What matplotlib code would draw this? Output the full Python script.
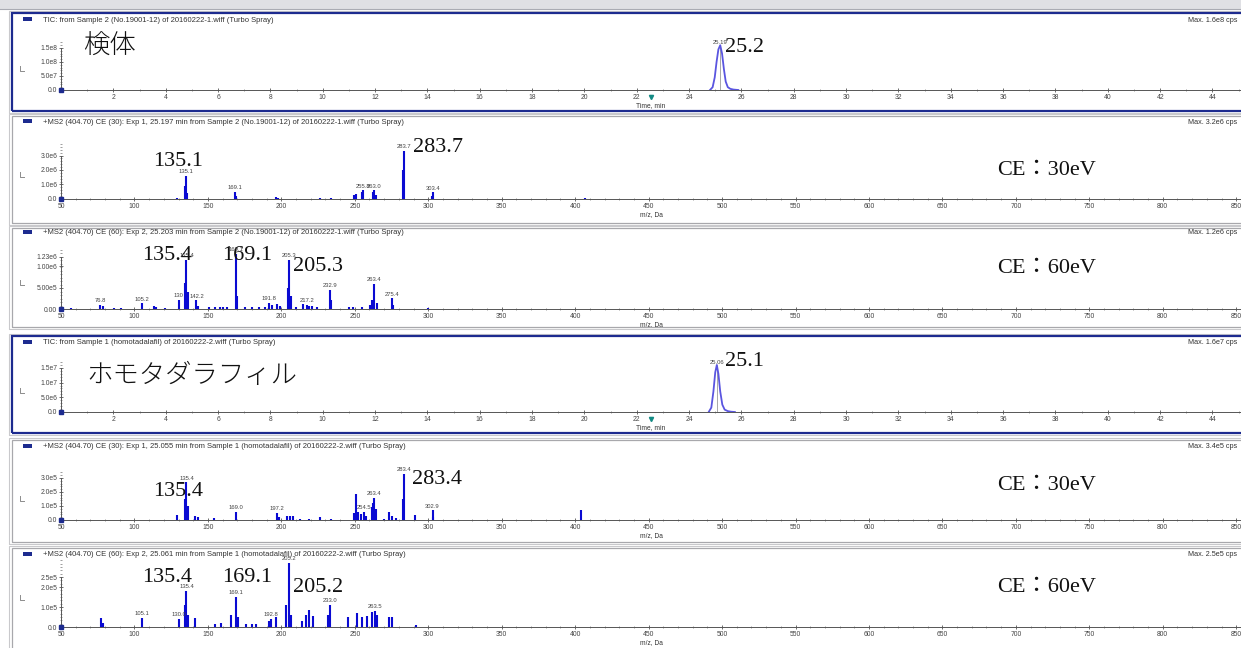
import matplotlib
matplotlib.use("Agg")
import matplotlib.pyplot as plt
from matplotlib.patches import Rectangle
from matplotlib.lines import Line2D
from matplotlib.ticker import MultipleLocator, FixedLocator

plt.rcParams['font.family'] = ['Liberation Sans', 'DejaVu Sans']

W, H = 1241, 648

# ---------------- data ----------------
# TIC, Sample 2 (No.19001-12)
tic1_time = [24.80, 24.90, 24.98, 25.05, 25.12, 25.19, 25.26, 25.33, 25.40, 25.48, 25.58, 25.70, 25.88]
tic1_int = [0, 0.1e8, 0.45e8, 1.0e8, 1.45e8, 1.6e8, 1.3e8, 0.75e8, 0.3e8, 0.1e8, 0.04e8, 0.015e8, 0]

# MS2 CE 30, sample
ms1_mz = [129.0, 134.6, 135.1, 136.0, 168.7, 169.3, 196.5, 198.0, 226.0, 234.0, 249.5, 250.5,
          255.0, 255.8, 262.5, 263.0, 264.5, 282.6, 283.7, 302.6, 303.4, 406.5]
ms1_int = [0.1e6, 0.9e6, 1.6e6, 0.4e6, 0.5e6, 0.2e6, 0.15e6, 0.08e6, 0.05e6, 0.08e6, 0.3e6, 0.35e6,
           0.45e6, 0.6e6, 0.45e6, 0.6e6, 0.3e6, 2.0e6, 3.3e6, 0.2e6, 0.45e6, 0.1e6]
ms1_labels = ['135.1', '169.1', '255.8', '263.0', '283.7', '303.4']

# MS2 CE 60, sample
ms2_mz = [57, 76.8, 78.5, 86, 91, 105.2, 113, 115, 121, 130, 134.5, 135.4, 136.5, 142.2, 143.5,
          151, 155, 158, 160, 163, 169.1, 170, 175, 180, 185, 189, 191.8, 193.5, 197, 199,
          204.5, 205.3, 206.5, 210, 215, 217.2, 219, 221, 224, 232.9, 234, 246, 249, 255,
          260.5, 262, 263.4, 265, 275.4, 276, 300]
ms2_int = [0.03e6, 0.1e6, 0.06e6, 0.03e6, 0.02e6, 0.13e6, 0.07e6, 0.05e6, 0.02e6, 0.22e6, 0.6e6,
           1.15e6, 0.4e6, 0.2e6, 0.07e6, 0.05e6, 0.05e6, 0.04e6, 0.05e6, 0.04e6, 1.3e6, 0.3e6,
           0.05e6, 0.04e6, 0.05e6, 0.05e6, 0.15e6, 0.1e6, 0.12e6, 0.08e6, 0.5e6, 1.15e6, 0.3e6,
           0.05e6, 0.12e6, 0.1e6, 0.08e6, 0.06e6, 0.04e6, 0.45e6, 0.2e6, 0.05e6, 0.05e6, 0.05e6,
           0.1e6, 0.2e6, 0.58e6, 0.15e6, 0.25e6, 0.1e6, 0.03e6]
ms2_labels = ['76.8', '105.2', '130', '135.4', '142.2', '169.1', '191.8', '205.3', '217.2',
              '232.9', '263.4', '275.4']

# TIC, Sample 1 (homotadalafil)
tic2_time = [24.75, 24.85, 24.93, 25.00, 25.06, 25.12, 25.19, 25.27, 25.36, 25.48, 25.60, 25.75]
tic2_int = [0, 0.15e7, 0.7e7, 1.35e7, 1.6e7, 1.3e7, 0.7e7, 0.25e7, 0.08e7, 0.03e7, 0.01e7, 0]

# MS2 CE 30, homotadalafil
ms3_mz = [129, 134.5, 135.4, 136.3, 141, 143, 154, 169.0, 197.2, 198.5, 204, 206, 208, 213,
          219, 226, 234, 249.5, 250.5, 252.5, 254.5, 256, 257.5, 261.5, 262.5, 263.4, 264.5,
          270, 273, 275, 278, 282.6, 283.4, 291, 302.9, 303.5, 404]
ms3_int = [0.35e5, 1.5e5, 2.7e5, 1.0e5, 0.3e5, 0.25e5, 0.15e5, 0.6e5, 0.5e5, 0.2e5, 0.3e5,
           0.3e5, 0.3e5, 0.1e5, 0.1e5, 0.25e5, 0.1e5, 0.5e5, 1.85e5, 0.6e5, 0.4e5, 0.6e5,
           0.3e5, 0.9e5, 1.2e5, 1.6e5, 0.8e5, 0.1e5, 0.6e5, 0.3e5, 0.15e5, 1.5e5, 3.3e5,
           0.35e5, 0.7e5, 0.25e5, 0.7e5]
ms3_labels = ['135.4', '169.0', '197.2', '254.5', '263.4', '283.4', '302.9']

# MS2 CE 60, homotadalafil
ms4_mz = [77.0, 78.5, 105.1, 130.0, 134.5, 135.4, 136.3, 141.5, 155, 159, 165.5, 169.1, 170.5,
          176, 180, 183, 191.5, 192.8, 196.5, 203.5, 205.2, 206.5, 214, 216.5, 219, 221.5,
          232, 233.0, 245.5, 251.5, 255, 258, 262, 263.5, 265, 273, 275, 292]
ms4_int = [0.45e5, 0.2e5, 0.45e5, 0.4e5, 1.1e5, 1.8e5, 0.6e5, 0.45e5, 0.15e5, 0.2e5, 0.6e5,
           1.5e5, 0.5e5, 0.15e5, 0.15e5, 0.15e5, 0.3e5, 0.4e5, 0.5e5, 1.1e5, 3.2e5, 0.6e5,
           0.3e5, 0.6e5, 0.85e5, 0.55e5, 0.6e5, 1.1e5, 0.5e5, 0.7e5, 0.5e5, 0.55e5, 0.75e5,
           0.8e5, 0.6e5, 0.5e5, 0.5e5, 0.1e5]
ms4_labels = ['105.1', '130.0', '135.4', '169.1', '192.8', '205.2', '233.0', '263.5']

titles = [
    'TIC: from Sample 2 (No.19001-12) of 20160222-1.wiff (Turbo Spray)',
    '+MS2 (404.70) CE (30): Exp 1, 25.197 min from Sample 2 (No.19001-12) of 20160222-1.wiff (Turbo Spray)',
    '+MS2 (404.70) CE (60): Exp 2, 25.203 min from Sample 2 (No.19001-12) of 20160222-1.wiff (Turbo Spray)',
    'TIC: from Sample 1 (homotadalafil) of 20160222-2.wiff (Turbo Spray)',
    '+MS2 (404.70) CE (30): Exp 1, 25.055 min from Sample 1 (homotadalafil) of 20160222-2.wiff (Turbo Spray)',
    '+MS2 (404.70) CE (60): Exp 2, 25.061 min from Sample 1 (homotadalafil) of 20160222-2.wiff (Turbo Spray)',
]
max_texts = ['Max. 1.6e8 cps', 'Max. 3.2e6 cps', 'Max. 1.2e6 cps',
             'Max. 1.6e7 cps', 'Max. 3.4e5 cps', 'Max. 2.5e5 cps']
ytick_vals = [[0, 5e7, 1e8, 1.5e8], [0, 1e6, 2e6, 3e6], [0, 5e5, 1e6, 1.23e6],
              [0, 5e6, 1e7, 1.5e7], [0, 1e5, 2e5, 3e5], [0, 1e5, 2e5, 2.5e5]]
ytick_text = [['0.0', '5.0e7', '1.0e8', '1.5e8'], ['0.0', '1.0e6', '2.0e6', '3.0e6'],
              ['0.00', '5.00e5', '1.00e6', '1.23e6'], ['0.0', '5.0e6', '1.0e7', '1.5e7'],
              ['0.0', '1.0e5', '2.0e5', '3.0e5'], ['0.0', '1.0e5', '2.0e5', '2.5e5']]

# ---------------- layout (pixels of the 1241x648 screenshot) ----------------
# frame top, frame bottom, baseline, px per y unit, axes top, is TIC
layout = [
    (13, 111, 90, 14 / 5e7, 40, True),
    (116, 223, 199, 14.5 / 1e6, 143, False),
    (228, 327, 309, 42.6 / 1e6, 248, False),
    (336, 433, 412, 14.7 / 5e6, 362, True),
    (440, 542, 520, 14 / 1e5, 470, False),
    (548, 650, 627, 20 / 1e5, 560, False),
]
title_rows = [20, 122, 233, 343, 447, 555]
X0 = 61
TIC_PX = 26.17      # px per minute
MZ_PX = 1.469       # px per m/z unit

fig = plt.figure(figsize=(W / 100, H / 100), dpi=100)
fig.patch.set_facecolor('white')


def fx(x):
    return x / W


def fy(y):
    return 1 - y / H


# window strip on top
fig.add_artist(Rectangle((0, fy(9)), 1, 9 / H, transform=fig.transFigure,
                         facecolor='#dfe0e4', edgecolor='none'))
fig.add_artist(Line2D([0, 1], [fy(9), fy(9)], transform=fig.transFigure, color='#a9abb3', lw=0.8))

NAVY = '#1d2b8f'
BLUE = '#0a0ad2'
big_num = dict(family=['Liberation Serif', 'Noto Sans CJK JP'], fontsize=16, color='#111111')
big_jp = dict(family=['Noto Sans CJK JP'], fontsize=19, fontweight='light', color='#111111')

axes = []
for i, (ytop_f, ybot_f, base, ppu, top, is_tic) in enumerate(layout):
    # panel frame
    fig.add_artist(Rectangle((fx(9), fy(ybot_f + 2)), fx(W), (ybot_f - ytop_f + 4) / H,
                             transform=fig.transFigure, fill=False, edgecolor='#c9c9cc', lw=0.8))
    fig.add_artist(Rectangle((fx(12), fy(ybot_f)), fx(W), (ybot_f - ytop_f) / H,
                             transform=fig.transFigure, fill=False,
                             edgecolor=NAVY if is_tic else '#a8a8ac', lw=1.6 if is_tic else 0.9))
    # legend swatch, title, max
    title_y = title_rows[i]
    fig.add_artist(Rectangle((fx(23), fy(title_y + 1)), 9 / W, 4 / H, transform=fig.transFigure,
                             facecolor=NAVY, edgecolor='none'))
    fig.text(fx(43), fy(title_y), titles[i], fontsize=5.5, color='#333333', va='center')
    fig.text(fx(1188), fy(title_y), max_texts[i], fontsize=5.2, color='#333333', va='center')
    # small ruler icon at the left
    ym = (base + top) / 2 + 6
    fig.add_artist(Line2D([fx(20), fx(20), fx(24)], [fy(ym - 5), fy(ym), fy(ym)],
                          transform=fig.transFigure, color='#8c8c8c', lw=0.7))

    ax = fig.add_axes([fx(X0), fy(base), (W - X0) / W, (base - top) / H])
    ax.set_facecolor('none')
    ax.set_ylim(0, (base - top) / ppu)
    if is_tic:
        ax.set_xlim(0, (W - X0) / TIC_PX)
        ax.xaxis.set_major_locator(FixedLocator(list(range(2, 46, 2))))
        ax.xaxis.set_minor_locator(MultipleLocator(1))
        ax.set_xlabel('Time, min', fontsize=4.8, color='#333333', labelpad=1)
    else:
        ax.set_xlim(50, 50 + (W - X0) / MZ_PX)
        ax.xaxis.set_major_locator(MultipleLocator(50))
        ax.xaxis.set_minor_locator(MultipleLocator(10))
        ax.set_xlabel('m/z, Da', fontsize=4.8, color='#333333', labelpad=1)
    ax.yaxis.set_major_locator(FixedLocator(ytick_vals[i]))
    ax.set_yticklabels(ytick_text[i])
    ax.yaxis.set_minor_locator(MultipleLocator(ytick_vals[i][-1] / 15))
    for s in ['top', 'right']:
        ax.spines[s].set_visible(False)
    ax.spines['left'].set_bounds(0, ytick_vals[i][-1])
    for s in ['left', 'bottom']:
        ax.spines[s].set_color('#555555')
        ax.spines[s].set_linewidth(0.7)
    ax.tick_params(axis='both', which='major', labelsize=4.9, labelcolor='#444444',
                   color='#555555', length=2.5, width=0.6, direction='inout', pad=1.5)
    ax.tick_params(axis='both', which='minor', length=1.4, width=0.5, color='#777777',
                   direction='inout')
    ax.plot([ax.get_xlim()[0]], [0], marker='s', ms=3, color=NAVY, clip_on=False, zorder=5)
    axes.append(ax)

ax1, ax2, ax3, ax4, ax5, ax6 = axes

# ---- TIC traces ----
for ax, t, y, apex in [(ax1, tic1_time, tic1_int, '25.19'), (ax4, tic2_time, tic2_int, '25.06')]:
    ax.plot(t, y, color='#5a55e0', lw=1.3, zorder=3)
    k = y.index(max(y))
    ax.vlines(t[k], 0, y[k], color='#9a9a9a', lw=0.6, zorder=2)
    ax.text(t[k], y[k], apex, fontsize=4.2, color='#444444', ha='center', va='bottom')
    ax.plot([22.55], [-ax.get_ylim()[1] * 0.13], marker='v', ms=3, color='#138a84', clip_on=False)


# ---- MS2 stick spectra ----
def sticks(ax, mz, inten, labels):
    ax.vlines(mz, 0, inten, color=BLUE, lw=1.5, zorder=3)
    for lab in labels:
        v = float(lab)
        cands = [j for j in range(len(mz)) if abs(mz[j] - v) < 1.6]
        k = max(cands, key=lambda j: inten[j])
        ax.text(mz[k], inten[k] + ax.get_ylim()[1] * 0.03, lab, fontsize=4.2,
                color='#444444', ha='center', va='bottom')


sticks(ax2, ms1_mz, ms1_int, ms1_labels)
sticks(ax3, ms2_mz, ms2_int, ms2_labels)
sticks(ax5, ms3_mz, ms3_int, ms3_labels)
sticks(ax6, ms4_mz, ms4_int, ms4_labels)

# ---- large annotations added on the screenshot ----
fig.text(fx(83), fy(46), '検体', va='center', **big_jp)
fig.text(fx(725), fy(47), '25.2', va='center', **big_num)
fig.text(fx(153), fy(161), '135.1', va='center', **big_num)
fig.text(fx(413), fy(147), '283.7', va='center', **big_num)
fig.text(fx(997), fy(170), 'CE：30eV', va='center', **big_num)
fig.text(fx(142), fy(256), '135.4', va='center', **big_num)
fig.text(fx(222), fy(256), '169.1', va='center', **big_num)
fig.text(fx(293), fy(267), '205.3', va='center', **big_num)
fig.text(fx(997), fy(268), 'CE：60eV', va='center', **big_num)
fig.text(fx(86), fy(375), 'ホモタダラフィル', va='center', **big_jp)
fig.text(fx(725), fy(362), '25.1', va='center', **big_num)
fig.text(fx(153), fy(492), '135.4', va='center', **big_num)
fig.text(fx(412), fy(480), '283.4', va='center', **big_num)
fig.text(fx(997), fy(486), 'CE：30eV', va='center', **big_num)
fig.text(fx(142), fy(578), '135.4', va='center', **big_num)
fig.text(fx(222), fy(578), '169.1', va='center', **big_num)
fig.text(fx(293), fy(588), '205.2', va='center', **big_num)
fig.text(fx(997), fy(588), 'CE：60eV', va='center', **big_num)

fig.savefig('out.png', dpi=100)
